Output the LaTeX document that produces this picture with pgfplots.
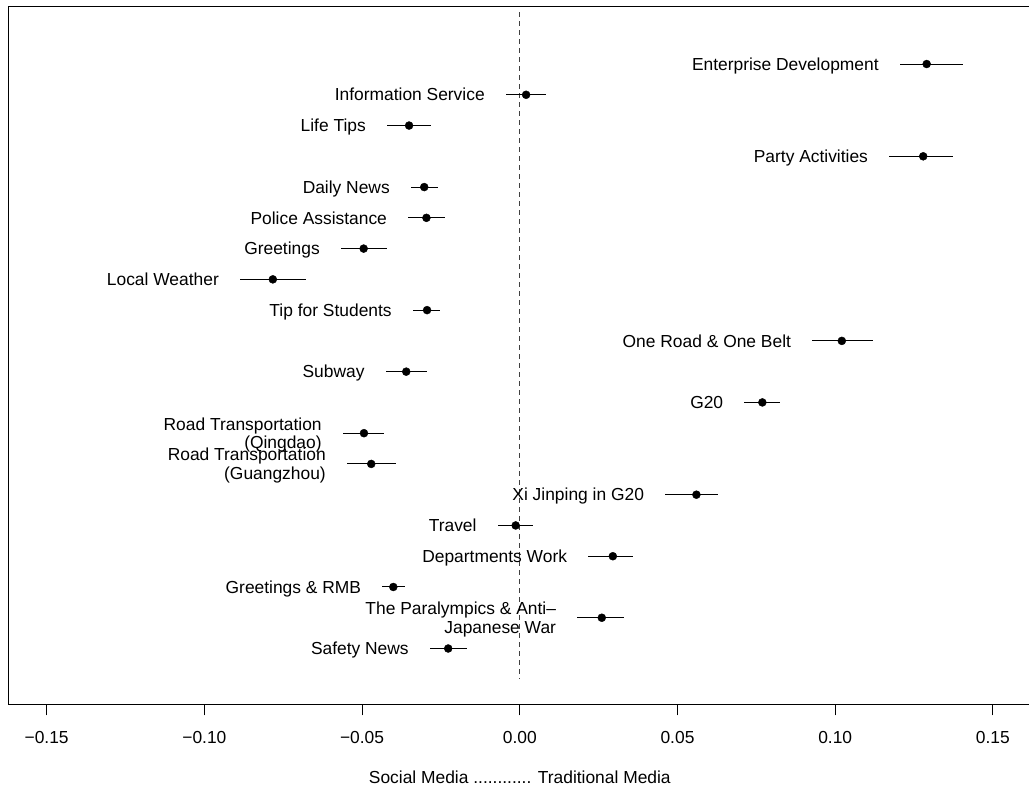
\documentclass[border=0pt]{standalone}
\usepackage{pgfplots}
\pgfplotsset{compat=1.18}
\usepackage{pgfplotstable}
\usepackage{fontspec}
\setmainfont{Liberation Sans}

% row: position from the top; est: point estimate; lo/hi: interval ends
\pgfplotstableread{
row est lo hi
1 0.1290 0.1205 0.1406
2 0.0020 -0.0044 0.0083
3 -0.0351 -0.0421 -0.0282
4 0.1279 0.1171 0.1372
5 -0.0303 -0.0345 -0.0260
6 -0.0296 -0.0354 -0.0237
7 -0.0495 -0.0567 -0.0422
8 -0.0783 -0.0887 -0.0679
9 -0.0294 -0.0339 -0.0252
10 0.1021 0.0927 0.1119
11 -0.0360 -0.0425 -0.0295
12 0.0769 0.0712 0.0826
13 -0.0494 -0.0561 -0.0430
14 -0.0471 -0.0548 -0.0393
15 0.0560 0.0461 0.0628
16 -0.0013 -0.0070 0.0043
17 0.0295 0.0217 0.0360
18 -0.0401 -0.0436 -0.0364
19 0.0260 0.0182 0.0330
20 -0.0227 -0.0285 -0.0166
}\topics

\newcommand\lblfont{\fontsize{17.4}{20}\selectfont}
% label to the left of an interval: lower end, row, text
\newcommand\lab[3]{\node[anchor=base east, inner sep=0pt, xshift=-21pt, yshift=-6.2pt, font=\lblfont] at (axis cs:#1,#2) {#3};}
\newcommand\labtwo[4]{%
  \node[anchor=base east, inner sep=0pt, xshift=-21pt, yshift=3.15pt, font=\lblfont] at (axis cs:#1,#2) {#3};
  \node[anchor=base east, inner sep=0pt, xshift=-21pt, yshift=-15.55pt, font=\lblfont] at (axis cs:#1,#2) {#4};}

\begin{document}
\begin{tikzpicture}
\begin{axis}[
  at={(8.5pt,787pt)}, anchor=north west,
  scale only axis, width=1022.6pt, height=697.5pt,
  xmin=-0.1621, xmax=0.1621,
  ymin=-0.854, ymax=21.82, y dir=reverse,
  axis x line*=box, axis y line*=left,
  ytick=\empty,
  xtick={-0.15,-0.1,-0.05,0,0.05,0.1,0.15},
  xticklabels={−0.15,−0.10,−0.05,0.00,0.05,0.10,0.15},
  xtick pos=left,
  tick align=outside,
  major tick length=11pt,
  tick style={black, line width=1pt},
  axis line style={black, line width=1pt},
  xticklabel style={font=\lblfont, anchor=base, yshift=-27.7pt},
]
\addplot[black!75, line width=1pt, dash pattern=on 4.5pt off 4.5pt]
  coordinates {(0,-0.69) (0,21)};

\addplot[only marks, mark=*, mark size=4pt, black,
  error bars/.cd, x dir=both, x explicit, error mark=none,
  error bar style={line width=1pt, black}]
  table[x=est, y=row,
        x error plus expr=\thisrow{hi}-\thisrow{est},
        x error minus expr=\thisrow{est}-\thisrow{lo}] {\topics};

\lab{0.1205}{1}{Enterprise Development}
\lab{-0.0044}{2}{Information Service}
\lab{-0.0421}{3}{Life Tips}
\lab{0.1171}{4}{Party Activities}
\lab{-0.0345}{5}{Daily News}
\lab{-0.0354}{6}{Police Assistance}
\lab{-0.0567}{7}{Greetings}
\lab{-0.0887}{8}{Local Weather}
\lab{-0.0339}{9}{Tip for Students}
\lab{0.0927}{10}{One Road \& One Belt}
\lab{-0.0425}{11}{Subway}
\lab{0.0712}{12}{G20}
\labtwo{-0.0561}{13}{Road Transportation}{(Qingdao)}
\labtwo{-0.0548}{14}{Road Transportation}{(Guangzhou)}
\lab{0.0461}{15}{Xi Jinping in G20}
\lab{-0.0070}{16}{Travel}
\lab{0.0217}{17}{Departments Work}
\lab{-0.0436}{18}{Greetings \& RMB}
\labtwo{0.0182}{19}{The Paralympics \& Anti–}{Japanese War}
\lab{-0.0285}{20}{Safety News}
\end{axis}
\node[anchor=base, inner sep=0pt, font=\lblfont] at (519.8pt,10.8pt)
  {Social Media ............ Traditional Media};
\pgfresetboundingbox
\useasboundingbox (0,0) rectangle (1029pt,794pt);
\end{tikzpicture}
\end{document}
